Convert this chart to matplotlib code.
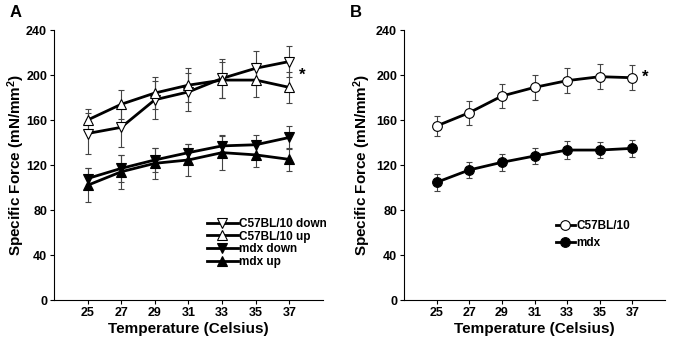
import matplotlib
matplotlib.use("Agg")
import matplotlib.pyplot as plt

plt.rcParams['font.family'] = ['Liberation Sans', 'DejaVu Sans']
plt.rcParams['font.weight'] = 'bold'
plt.rcParams['mathtext.default'] = 'regular'

# Temperatures
temps = [25, 27, 29, 31, 33, 35, 37]

# Panel A
c57_down = [148, 153.5, 178, 185, 197, 206, 212]
c57_down_err = [18, 17.5, 17, 17, 17, 15, 14]
c57_up = [160, 174, 184, 191, 195.5, 195.5, 189]
c57_up_err = [10, 13, 14, 15, 16, 15, 14]
mdx_down = [108, 117, 124.5, 131, 137, 138, 144.5]
mdx_down_err = [9, 12, 11, 8, 9.5, 9, 10]
mdx_up = [102, 114, 121.5, 124.5, 131, 129, 125]
mdx_up_err = [15, 15, 14, 14, 15, 11, 10]

# Panel B
c57_mean = [154.7, 166.5, 181.3, 189, 195, 198.5, 197.6]
c57_mean_err = [9, 10.5, 10.7, 11, 11, 11, 11]
mdx_mean = [104.6, 115.6, 122.4, 128, 133.3, 133.3, 134.8]
mdx_mean_err = [7.5, 7.4, 7.4, 7.4, 8.3, 7.4, 7.4]

fig = plt.figure(figsize=(6.8, 3.41), dpi=100)
axA = fig.add_axes([0.0794, 0.1202, 0.3956, 0.7918])
axB = fig.add_axes([0.5941, 0.1202, 0.3839, 0.7918])


def series(ax, y, err, marker, face, label):
    ax.errorbar(temps, y, yerr=err, fmt='none', ecolor='#444444',
                elinewidth=0.8, capsize=2.5, capthick=0.8, zorder=2)
    ax.plot(temps, y, color='black', lw=2, marker=marker, ms=7,
            mfc=face, mec='black', mew=0.8, label=label, zorder=3)


series(axA, c57_down, c57_down_err, 'v', 'white', 'C57BL/10 down')
series(axA, c57_up, c57_up_err, '^', 'white', 'C57BL/10 up')
series(axA, mdx_down, mdx_down_err, 'v', 'black', 'mdx down')
series(axA, mdx_up, mdx_up_err, '^', 'black', 'mdx up')

series(axB, c57_mean, c57_mean_err, 'o', 'white', 'C57BL/10')
series(axB, mdx_mean, mdx_mean_err, 'o', 'black', 'mdx')

for ax, lx in [(axA, -0.102), (axB, -0.12)]:
    ax.set_xlim(23, 39)
    ax.set_ylim(0, 240)
    ax.set_xticks(temps)
    ax.set_yticks([0, 40, 80, 120, 160, 200, 240])
    ax.spines['top'].set_visible(False)
    ax.spines['right'].set_visible(False)
    ax.spines['left'].set_linewidth(0.8)
    ax.spines['bottom'].set_linewidth(0.8)
    ax.tick_params(labelsize=9, length=3, width=0.8, pad=2)
    ax.set_xlabel('Temperature (Celsius)', fontsize=11, fontweight='bold', labelpad=2)
    ax.set_ylabel('Specific Force (mN/mm$^2$)', fontsize=11, fontweight='bold')
    ax.yaxis.set_label_coords(lx, 0.5)

fig.text(10 / 680, 1 - 17 / 341, 'A', fontsize=12, fontweight='bold')
fig.text(350 / 680, 1 - 17 / 341, 'B', fontsize=12, fontweight='bold')

axA.text(37.75, 200, '*', fontsize=12, fontweight='bold', ha='center', va='center')
axB.text(37.8, 198, '*', fontsize=12, fontweight='bold', ha='center', va='center')

axA.legend(loc='upper left', bbox_to_anchor=(207 / 680, 1 - 218 / 341),
           bbox_transform=fig.transFigure, frameon=False, fontsize=8.5,
           handlelength=2.6, handletextpad=0.1, labelspacing=0.05,
           borderaxespad=0, borderpad=0)
axB.legend(loc='upper left', bbox_to_anchor=(556 / 680, 1 - 220 / 341),
           bbox_transform=fig.transFigure, frameon=False, fontsize=8.5,
           handlelength=1.6, handletextpad=0.1, labelspacing=0.45,
           borderaxespad=0, borderpad=0)

fig.savefig('out.png', dpi=100)
